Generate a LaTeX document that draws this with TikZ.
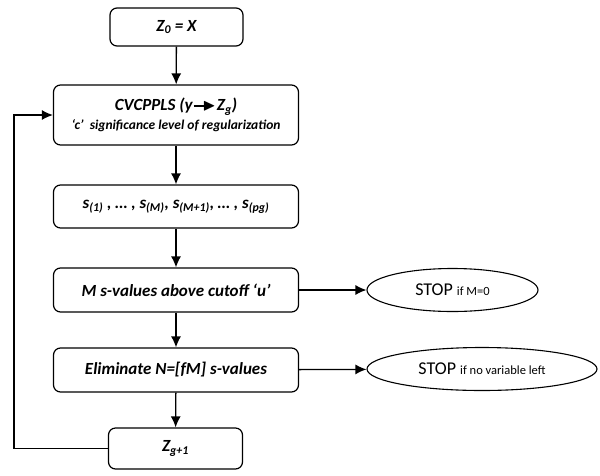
\documentclass[tikz,border=0pt]{standalone}
\usepackage{amssymb}
\usepackage{fontspec}
\setmainfont{Carlito}
\usetikzlibrary{arrows.meta,shapes.geometric}

% small filled arrow for y -> Z_g
\newcommand\yto{\kern1pt\rule[0.24em]{12pt}{1.3pt}\kern-3pt$\blacktriangleright$\kern1pt}

\begin{document}
\begin{tikzpicture}[x=1pt,y=-1pt,
     box/.style={draw,rounded corners=7pt,line width=1.2pt,align=center,inner sep=0pt,
                 minimum width=245pt,font=\bfseries\itshape\fontsize{17}{19}\selectfont},
     stopel/.style={draw,ellipse,line width=1.1pt,inner sep=0pt,minimum height=43pt,
                 font=\fontsize{18}{20}\selectfont},
     arr/.style={-{Latex[length=11pt,width=10pt]},line width=1.3pt}
     ]
   \useasboundingbox (0,0) rectangle (600,475);

   % main column of boxes
   \node[box,minimum width=133pt,minimum height=38pt] (z0) at (176.5,27) {Z\textsubscript{0} = X};
   \node[box,minimum height=60pt] (cvc) at (176,115)
      {CVCPPLS (y\yto Z\textsubscript{g})\\[0pt]
       {\fontsize{13.5}{15}\selectfont ‘c’~ significance level of regularization}};
   \node[box,minimum height=43pt] (sv) at (176,206.5)
      {s\textsubscript{(1)} , … , s\textsubscript{(M)}, s\textsubscript{(M+1)}, … , s\textsubscript{(pg)}};
   \node[box,minimum height=44pt] (msv) at (176,290) {M s-values above cutoff ‘u’};
   \node[box,minimum height=44pt] (elim) at (176,370) {Eliminate N=[fM] s-values};
   \node[box,minimum width=134pt,minimum height=41pt] (zg) at (175.5,448.5) {Z\textsubscript{g+1}};

   % stop conditions
   \node[stopel,minimum width=171pt] (stop1) at (452.5,290)
      {STOP {\fontsize{12.5}{14}\selectfont if M=0}};
   \node[stopel,minimum width=230pt] (stop2) at (482,369)
      {STOP {\fontsize{12.5}{14}\selectfont if no variable left}};

   \foreach \a/\b in {z0/cvc, cvc/sv, sv/msv, msv/elim, elim/zg}
      \draw[arr] (\a) -- (\b);
   \draw[arr] (msv) -- (stop1);
   \draw[arr] (elim) -- (stop2);

   % loop back to the start
   \coordinate (back) at (14,448.5);
   \draw[arr] (zg.west) -- (back) |- (cvc.west);
\end{tikzpicture}
\end{document}
